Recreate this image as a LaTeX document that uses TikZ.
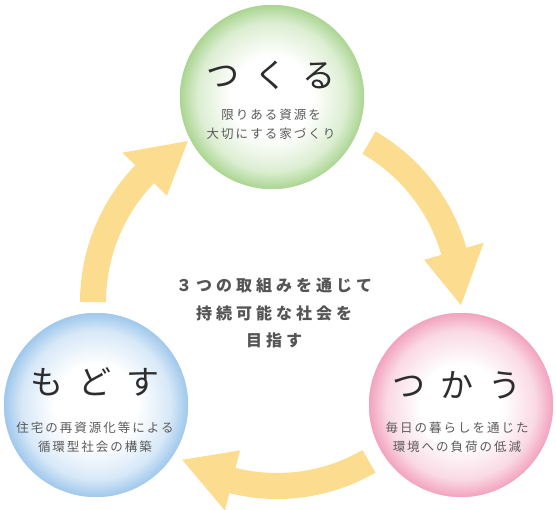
\documentclass[tikz,border=0pt]{standalone}
\usepackage{fontspec}
\newfontfamily\jpfont{Noto Sans CJK JP}
\newfontfamily\jpsub[LetterSpace=16]{Noto Sans CJK JP}
\newfontfamily\jpmid[LetterSpace=25]{Noto Sans CJK JP}
\definecolor{ballgreen}{RGB}{168,212,142}
\definecolor{ballblue}{RGB}{156,198,236}
\definecolor{ballpink}{RGB}{242,160,188}
\definecolor{arrowfill}{RGB}{252,221,143}
\definecolor{titletext}{RGB}{45,45,45}
\definecolor{subtext}{RGB}{90,90,90}
\definecolor{midtext}{RGB}{85,85,85}
\pgfdeclareradialshading{greenball}{\pgfpoint{0bp}{0bp}}{color(0bp)=(white); color(11bp)=(white); color(20bp)=(ballgreen!40!white); color(25bp)=(ballgreen); color(50bp)=(ballgreen)}
\pgfdeclareradialshading{blueball}{\pgfpoint{0bp}{0bp}}{color(0bp)=(white); color(11bp)=(white); color(20bp)=(ballblue!40!white); color(25bp)=(ballblue); color(50bp)=(ballblue)}
\pgfdeclareradialshading{pinkball}{\pgfpoint{0bp}{0bp}}{color(0bp)=(white); color(11bp)=(white); color(20bp)=(ballpink!40!white); color(25bp)=(ballpink); color(50bp)=(ballpink)}

\begin{document}
\begin{tikzpicture}[x=1pt,y=-1pt,
  ball/.style={circle,shade,draw=white,line width=1.5pt,minimum size=186pt,inner sep=0pt},
  title/.style={font=\jpfont\fontsize{33}{33}\selectfont,text=titletext,inner sep=0pt},
  subtext/.style={font=\jpsub\fontsize{12.5}{19}\selectfont,text=subtext,align=center,inner sep=0pt},
  midtext/.style={font=\jpmid\bfseries\fontsize{16}{27.5}\selectfont,text=midtext,align=center,inner sep=0pt}
]
\useasboundingbox (0,0) rectangle (556,510);

% the arrows
\begin{scope}[shift={(277,302)}]
\foreach \a in {60,180,300}
    \fill[arrowfill] (\a:171) arc[start angle=\a, end angle=\a+44, radius=171]
        -- ({\a+44}:153) -- ({\a+61}:184) -- ({\a+44}:215) -- ({\a+44}:197)
        arc[start angle=\a+44, end angle=\a, radius=197] -- cycle;
\end{scope}

% the circles
\node[ball,shading=greenball] (tsukuru) at (272,97) {};
\node[ball,shading=blueball] (modosu) at (96,405) {};
\node[ball,shading=pinkball] (tsukau) at (461,405) {};

% the texts
\node[title] (tsukuruT) at ([xshift=-1pt,yshift=22pt]tsukuru.center) {つ\hspace{15pt}く\hspace{15pt}る};
\node[subtext] (tsukuruS) at ([xshift=-1pt,yshift=-27pt]tsukuru.center) {限りある資源を\\大切にする家づくり};
\node[title] (modosuT) at ([xshift=-1pt,yshift=23pt]modosu.center) {も\hspace{15pt}ど\hspace{15pt}す};
\node[subtext] (modosuS) at ([xshift=-1pt,yshift=-32pt]modosu.center) {住宅の再資源化等による\\循環型社会の構築};
\node[title] (tsukauT) at ([xshift=-4pt,yshift=20pt]tsukau.center) {つ\hspace{15pt}か\hspace{15pt}う};
\node[subtext] (tsukauS) at ([xshift=-4pt,yshift=-32pt]tsukau.center) {毎日の暮らしを通じた\\環境への負荷の低減};

\node[midtext] (goal) at (274,313) {３つの取組みを通じて\\持続可能な社会を\\目指す};

\end{tikzpicture}
\end{document}
